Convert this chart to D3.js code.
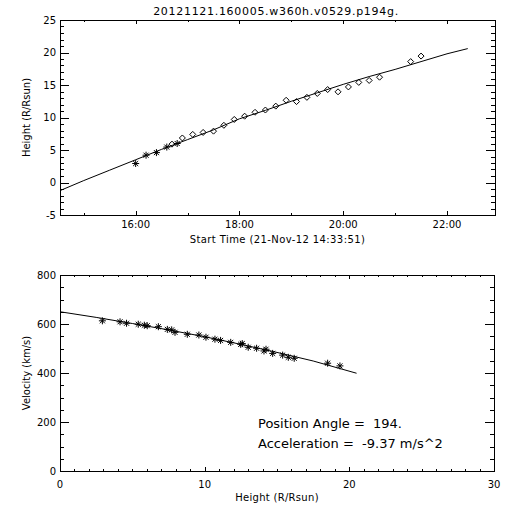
<!DOCTYPE html>
<html><head><meta charset="utf-8">
<script src="https://cdn.jsdelivr.net/npm/d3@7"></script>
<style>
html,body{margin:0;padding:0;background:#fff;}
svg text{font-family:"DejaVu Sans",sans-serif;fill:#000;white-space:pre;}
</style></head>
<body>
<script>
// ---- data ----
const titleText = "20121121.160005.w360h.v0529.p194g.";
const dateStr = "2012-11-21";
const axisStart = "14:32:30";
const axisEnd = "22:55:30";
const xAxisTitle = "Start Time (21-Nov-12 14:33:51)";

const c2Times = ["16:00","16:12","16:24","16:36","16:48"];
const c2Heights = [2.92, 4.2, 4.6, 5.45, 6.0];

const c3Times = ["16:42","16:54","17:06","17:18","17:30","17:42","17:54","18:06","18:18","18:30","18:42","18:54","19:06","19:18","19:30","19:42","19:54","20:06","20:18","20:30","20:42","21:18","21:30"];
const c3Heights = [5.9, 6.85, 7.4, 7.7, 7.9, 8.8, 9.7, 10.2, 10.8, 11.15, 11.75, 12.65, 12.45, 13.1, 13.7, 14.3, 13.95, 14.7, 15.4, 15.7, 16.2, 18.6, 19.45];

const fitTimes = ["14:32:30","15:00","15:30","16:00","16:30","17:00","17:30","18:00","18:30","19:00","19:30","20:00","20:30","21:00","21:30","22:00","22:24"];
const fitHeights = [-1.25, 0.3, 1.9, 3.5, 5.1, 6.6, 8.1, 9.8, 11.1, 12.5, 13.8, 15.1, 16.3, 17.4, 18.6, 19.8, 20.6];

const heightTicks = [-5, 0, 5, 10, 15, 20, 25];

const velHeights = [2.93, 4.15, 4.6, 5.41, 5.83, 6.03, 6.8, 7.42, 7.72, 7.95, 8.8, 9.6, 10.09, 10.71, 11.1, 11.8, 12.49, 12.6, 13.01, 13.59, 14.1, 14.24, 14.7, 15.39, 15.78, 16.19, 18.5, 19.35];
const velValues = [613, 609, 603, 599, 595, 593, 589, 578, 576, 566, 558, 555, 546, 538, 533, 525, 517, 520, 505, 501, 490, 497, 480, 473, 464, 460, 440, 429];

const velFitHeights = [0, 2.5, 5, 7.5, 10, 12.5, 15, 17.5, 20.5];
const velFitValues = [650, 627, 602, 576, 548, 517, 484, 449, 399];

const velTicks = [0, 200, 400, 600, 800];
const rTicks = [0, 10, 20, 30];

const annotation1 = "Position Angle =  194.";
const annotation2 = "Acceleration =  -9.37 m/s^2";

// ---- drawing ----
const W = 512, H = 512;
const svg = d3.select("body").append("svg").attr("width", W).attr("height", H);
const toDate = s => new Date(dateStr + "T" + (s.length === 5 ? s + ":00" : s) + "Z");

function frame(x0, x1, y0, y1) {
  svg.append("rect").attr("x", x0 + 0.5).attr("y", y0 + 0.5)
    .attr("width", x1 - x0).attr("height", y1 - y0)
    .attr("fill", "none").attr("stroke", "#000").attr("stroke-width", 1)
    .attr("shape-rendering", "crispEdges");
}

function ticksX(scale, values, y0, y1, len) {
  const g = svg.append("g").attr("stroke", "#000").attr("shape-rendering", "crispEdges");
  values.forEach(v => {
    const x = Math.round(scale(v)) + 0.5;
    g.append("line").attr("x1", x).attr("x2", x).attr("y1", y1).attr("y2", y1 - len);
    g.append("line").attr("x1", x).attr("x2", x).attr("y1", y0).attr("y2", y0 + len);
  });
}
function ticksY(scale, values, x0, x1, len) {
  const g = svg.append("g").attr("stroke", "#000").attr("shape-rendering", "crispEdges");
  values.forEach(v => {
    const y = Math.round(scale(v)) + 0.5;
    g.append("line").attr("x1", x0).attr("x2", x0 + len).attr("y1", y).attr("y2", y);
    g.append("line").attr("x1", x1).attr("x2", x1 - len).attr("y1", y).attr("y2", y);
  });
}

function asterisk(g, x, y, r) {
  const d = r * 0.72;
  const p = `M${x - r},${y}L${x + r},${y}M${x},${y - r}L${x},${y + r}M${x - d},${y - d}L${x + d},${y + d}M${x - d},${y + d}L${x + d},${y - d}`;
  g.append("path").attr("d", p).attr("stroke", "#000").attr("stroke-width", 1).attr("fill", "none");
}
function diamond(g, x, y, r) {
  const p = `M${x - r},${y}L${x},${y - r}L${x + r},${y}L${x},${y + r}Z`;
  g.append("path").attr("d", p).attr("stroke", "#000").attr("stroke-width", 1).attr("fill", "none");
}

// ===== top panel =====
const T = {x0: 60, x1: 495, y0: 20, y1: 215};
const xT = d3.scaleUtc().domain([toDate(axisStart), toDate(axisEnd)]).range([T.x0, T.x1]);
const yT = d3.scaleLinear().domain([-5, 25]).range([T.y1, T.y0]);

svg.append("text").attr("x", 276).attr("y", 15).attr("text-anchor", "middle")
  .attr("font-size", 11).attr("letter-spacing", 0.7).text(titleText);

const majorT = d3.utcHour.every(2).range(toDate(axisStart), toDate(axisEnd));
const minorT = d3.utcHour.every(1).range(toDate(axisStart), toDate(axisEnd));
ticksX(xT, minorT, T.y0, T.y1, 2);
ticksX(xT, majorT, T.y0, T.y1, 4);
ticksY(yT, d3.range(-5, 25.01, 1), T.x0, T.x1, 4.4);
ticksY(yT, heightTicks, T.x0, T.x1, 8.7);
frame(T.x0, T.x1, T.y0, T.y1);

const fmt = d3.utcFormat("%H:%M");
svg.append("g").selectAll("text").data(majorT).join("text")
  .attr("x", d => xT(d)).attr("y", 228).attr("text-anchor", "middle")
  .attr("font-size", 10).text(d => fmt(d));
svg.append("g").selectAll("text").data(heightTicks).join("text")
  .attr("x", 56).attr("y", d => yT(d) + 3.6).attr("text-anchor", "end")
  .attr("font-size", 10).text(d => d);
svg.append("text").attr("x", (T.x0 + T.x1) / 2).attr("y", 243).attr("text-anchor", "middle")
  .attr("font-size", 10).attr("letter-spacing", 0.4).text(xAxisTitle);
svg.append("text").attr("transform", `translate(30,${(T.y0 + T.y1) / 2}) rotate(-90)`)
  .attr("text-anchor", "middle").attr("font-size", 10).text("Height (R/Rsun)");

const fitLine = d3.line().x(d => xT(toDate(d[0]))).y(d => yT(d[1]));
svg.append("path").attr("d", fitLine(d3.zip(fitTimes, fitHeights)))
  .attr("fill", "none").attr("stroke", "#000").attr("stroke-width", 1);

const gT = svg.append("g");
c3Times.forEach((t, i) => diamond(gT, xT(toDate(t)), yT(c3Heights[i]), 3));
c2Times.forEach((t, i) => asterisk(gT, xT(toDate(t)), yT(c2Heights[i]), 3.5));

// ===== bottom panel =====
const B = {x0: 60, x1: 494, y0: 275, y1: 471};
const xB = d3.scaleLinear().domain([0, 30]).range([B.x0, B.x1]);
const yB = d3.scaleLinear().domain([0, 800]).range([B.y1, B.y0]);

ticksX(xB, d3.range(0, 30.01, 1), B.y0, B.y1, 2);
ticksX(xB, rTicks, B.y0, B.y1, 4);
ticksY(yB, d3.range(0, 800.1, 50), B.x0, B.x1, 4.4);
ticksY(yB, velTicks, B.x0, B.x1, 8.7);
frame(B.x0, B.x1, B.y0, B.y1);

svg.append("g").selectAll("text").data(rTicks).join("text")
  .attr("x", d => xB(d)).attr("y", 488).attr("text-anchor", "middle")
  .attr("font-size", 10).text(d => d);
svg.append("g").selectAll("text").data(velTicks).join("text")
  .attr("x", 56).attr("y", d => yB(d) + 3.6).attr("text-anchor", "end")
  .attr("font-size", 10).text(d => d);
svg.append("text").attr("x", (B.x0 + B.x1) / 2).attr("y", 501).attr("text-anchor", "middle")
  .attr("font-size", 10).attr("letter-spacing", 0.3).text("Height (R/Rsun)");
svg.append("text").attr("transform", `translate(30,${(B.y0 + B.y1) / 2}) rotate(-90)`)
  .attr("text-anchor", "middle").attr("font-size", 10).text("Velocity (km/s)");

const velLine = d3.line().x(d => xB(d[0])).y(d => yB(d[1]));
svg.append("path").attr("d", velLine(d3.zip(velFitHeights, velFitValues)))
  .attr("fill", "none").attr("stroke", "#000").attr("stroke-width", 1);

const gB = svg.append("g");
velHeights.forEach((h, i) => asterisk(gB, xB(h), yB(velValues[i]), 3.5));

svg.append("text").attr("x", 258).attr("y", 428).attr("font-size", 13).text(annotation1);
svg.append("text").attr("x", 258).attr("y", 448).attr("font-size", 13).text(annotation2);
</script>
</body></html>
